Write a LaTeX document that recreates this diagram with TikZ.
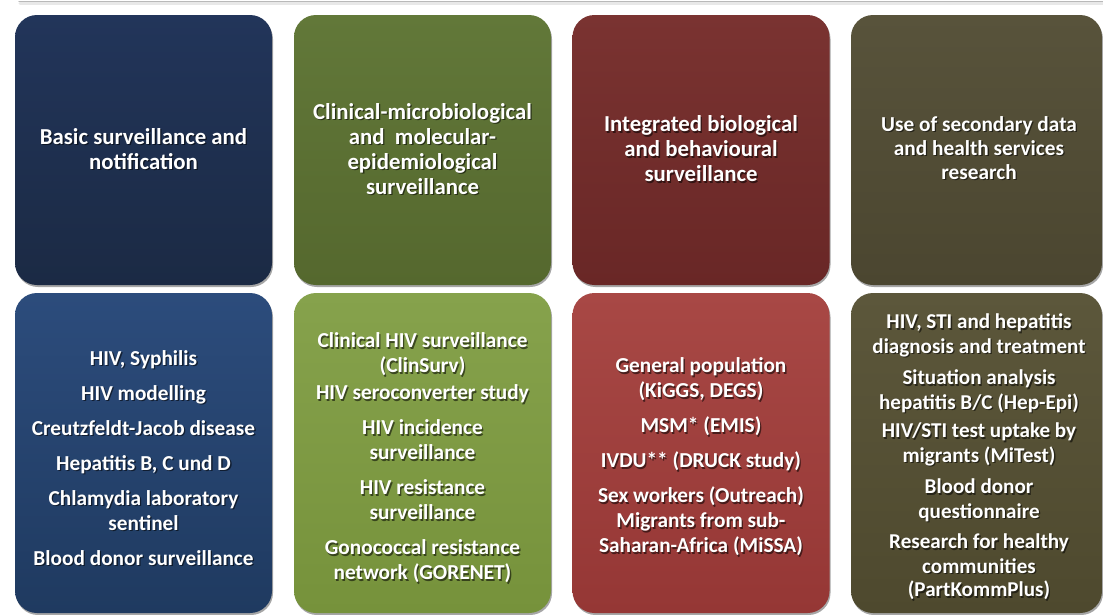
\documentclass[tikz,border=0pt]{standalone}
\usepackage{fontspec}
\setmainfont{Carlito}
\usetikzlibrary{shadows}
\definecolor{hA}{HTML}{1B2A44}
\definecolor{hAt}{HTML}{22355A}
\definecolor{bA}{HTML}{1F3A60}
\definecolor{bAt}{HTML}{2C4C7C}
\definecolor{hB}{HTML}{55682E}
\definecolor{hBt}{HTML}{627839}
\definecolor{bB}{HTML}{76923B}
\definecolor{bBt}{HTML}{86A24C}
\definecolor{hC}{HTML}{692726}
\definecolor{hCt}{HTML}{7A3331}
\definecolor{bC}{HTML}{953735}
\definecolor{bCt}{HTML}{A84845}
\definecolor{hD}{HTML}{4B4630}
\definecolor{hDt}{HTML}{58533B}
\definecolor{bD}{HTML}{4E492E}
\definecolor{bDt}{HTML}{5C573B}
\tikzset{
  tile/.style={rounded corners=22pt, minimum width=257pt, inner sep=0pt,
    drop shadow={shadow xshift=1pt, shadow yshift=-2pt, opacity=0.35, fill=black}},
  gloss/.style 2 args={top color=#2, middle color=#1, bottom color=#1},
  headtile/.style={tile, minimum height=270pt},
  bodytile/.style={tile, minimum height=320pt},
  txt/.style={align=center, text=white, inner sep=0pt},
  txtsh/.style={align=center, text=black, opacity=0.55, inner sep=0pt, xshift=1.3pt, yshift=-1.3pt},
  headfont/.style={font=\bfseries\fontsize{22.8}{25}\selectfont},
  bodyfont/.style={font=\bfseries\fontsize{21.3}{25}\selectfont},
  smallhead/.style={font=\bfseries\fontsize{21.3}{24}\selectfont},
  smallfont/.style={font=\bfseries\fontsize{21.1}{24.5}\selectfont}
}
\newcommand\tiletext[4]{%
  \node[txtsh,#4] at (#1) {#3};
  \node[txt,#4] (#2) at (#1) {#3};}
\begin{document}
\begin{tikzpicture}[x=1pt,y=-1pt]
\useasboundingbox (0,0) rectangle (1103,614);
\fill[white] (0,0) rectangle (1103,614);
\draw[gray!18, line width=3pt, line cap=round] (20,3.5) -- (1110,3.5);
\draw[gray!55, line width=1.2pt, line cap=round] (19,1.5) -- (1110,1.5);
% header row
\node[headtile, gloss={hA}{hAt}] (h1) at (143.5,150) {};
\node[headtile, gloss={hB}{hBt}] (h2) at (422.5,150) {};
\node[headtile, gloss={hC}{hCt}] (h3) at (701,150) {};
\node[headtile, gloss={hD}{hDt}, minimum width=251pt] (h4) at (976.5,150) {};
% body row
\node[bodytile, gloss={bA}{bAt}] (b1) at (143.5,453) {};
\node[bodytile, gloss={bB}{bBt}] (b2) at (422.5,453) {};
\node[bodytile, gloss={bC}{bCt}] (b3) at (701,453) {};
\node[bodytile, gloss={bD}{bDt}, minimum width=251pt] (b4) at (976.5,453) {};
% header texts
\tiletext{143.5,149}{ht1}{Basic surveillance and\\notification}{headfont}
\tiletext{422.5,149}{ht2}{Clinical-microbiological\\and\ \ molecular-\\epidemiological\\surveillance}{headfont}
\tiletext{701,149}{ht3}{Integrated biological\\and behavioural\\surveillance}{headfont}
\tiletext{979,148}{ht4}{Use of secondary data\\and health services\\research}{smallhead}
% body texts
\tiletext{143.5,458}{bt1}{HIV, Syphilis\\[10pt]HIV modelling\\[10pt]Creutzfeldt-Jacob disease\\[10pt]Hepatitis B, C und D\\[10pt]Chlamydia laboratory\\sentinel\\[10pt]Blood donor surveillance}{bodyfont}
\tiletext{422.5,458}{bt2}{Clinical HIV surveillance\\(ClinSurv)\\[2pt]HIV seroconverter study\\[10pt]HIV incidence\\surveillance\\[10pt]HIV resistance\\surveillance\\[10pt]Gonococcal resistance\\network (GORENET)}{bodyfont}
\tiletext{701,457}{bt3}{General population\\(KiGGS, DEGS)\\[10pt]MSM* (EMIS)\\[10pt]IVDU** (DRUCK study)\\[10pt]Sex workers (Outreach)\\Migrants from sub-\\Saharan-Africa (MiSSA)}{bodyfont}
\tiletext{979,457}{bt4}{HIV, STI and hepatitis\\diagnosis and treatment\\[7pt]Situation analysis\\hepatitis B/C (Hep-Epi)\\[4pt]HIV/STI test uptake by\\migrants (MiTest)\\[7pt]Blood donor\\questionnaire\\[6pt]Research for healthy\\communities\\[-1pt](PartKommPlus)}{smallfont}
\end{tikzpicture}
\end{document}
